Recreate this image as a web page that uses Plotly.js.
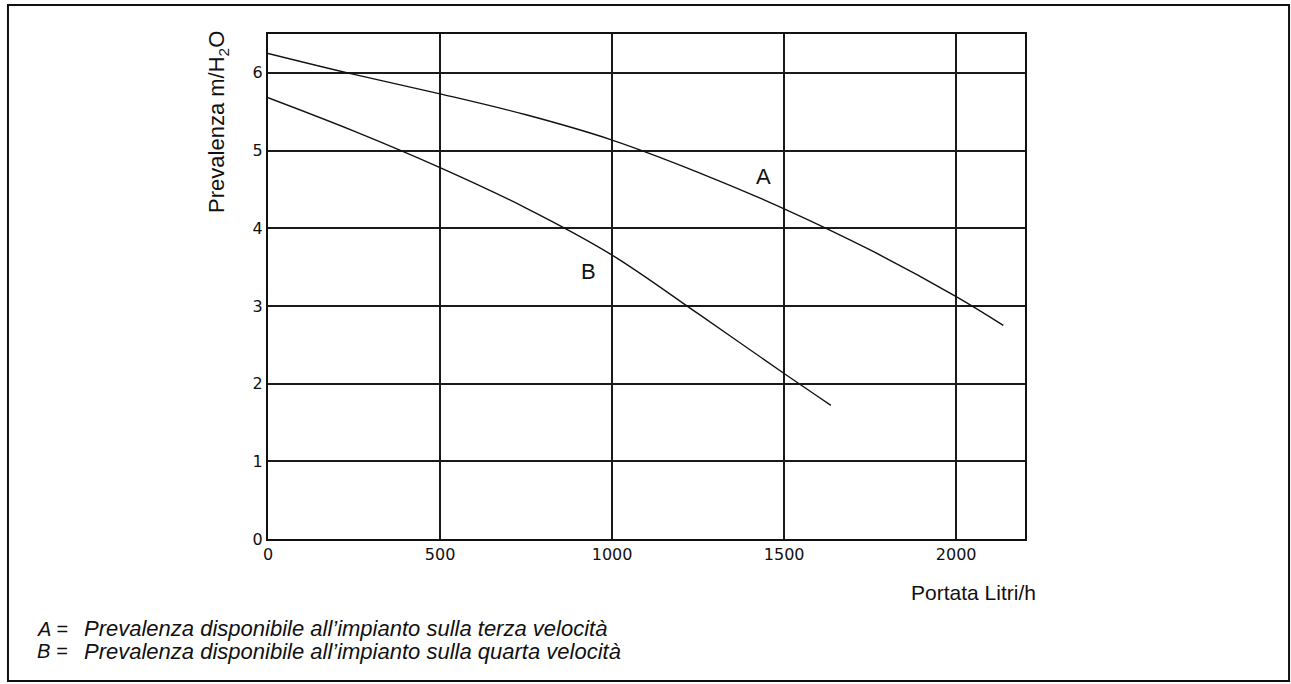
<!DOCTYPE html>
<html>
<head>
<meta charset="utf-8">
<script src="https://cdn.plot.ly/plotly-3.0.1.min.js"></script>
<style>
html,body{margin:0;padding:0;background:#fff;}
#chart{width:1291px;height:684px;}
</style>
</head>
<body>
<div id="chart"></div>
<script>
// Curve A (terza velocità)
const flowA = [0, 250, 500, 750, 1000, 1250, 1500, 1750, 2000, 2137];
const headA = [6.25, 5.98, 5.73, 5.46, 5.135, 4.72, 4.25, 3.72, 3.12, 2.75];
// Curve B (quarta velocità)
const flowB = [0, 250, 500, 750, 1000, 1250, 1500, 1636];
const headB = [5.68, 5.25, 4.78, 4.26, 3.655, 2.90, 2.13, 1.72];

const xTicks = [0, 500, 1000, 1500, 2000];
const yTicks = [0, 1, 2, 3, 4, 5, 6];

const curveLabels = ['A', 'B'];
const labelX = [1439, 930];
const labelY = [4.67, 3.44];

const legendKeys = ['A =', 'B ='];
const legendTexts = [
  'Prevalenza disponibile all’impianto sulla terza velocità',
  'Prevalenza disponibile all’impianto sulla quarta velocità'
];

const xTitle = 'Portata Litri/h';
const yTitle = 'Prevalenza m/H<sub>2</sub>O';

const lineStyle = {color: '#111', width: 1.4, shape: 'spline', smoothing: 1};

const traces = [
  {x: flowA, y: headA, mode: 'lines', line: lineStyle, hoverinfo: 'skip'},
  {x: flowB, y: headB, mode: 'lines', line: lineStyle, hoverinfo: 'skip'}
];

const font = 'Liberation Sans, Arial, sans-serif';
const annotations = [];
curveLabels.forEach((t, i) => annotations.push({
  xref: 'x', yref: 'y', x: labelX[i], y: labelY[i], text: t, showarrow: false,
  font: {family: font, size: 22, color: '#111'}, xanchor: 'center', yanchor: 'middle'
}));
annotations.push({
  xref: 'paper', yref: 'paper', x: -0.066, y: 0.826, text: yTitle, showarrow: false,
  textangle: -90, font: {family: font, size: 22, color: '#111'}, xanchor: 'center', yanchor: 'middle'
});
annotations.push({
  xref: 'paper', yref: 'paper', x: 0.932, y: -0.105, text: xTitle, showarrow: false,
  font: {family: font, size: 21, color: '#111'}, xanchor: 'center', yanchor: 'middle'
});
const legY = [-0.178, -0.222];
legendKeys.forEach((k, i) => {
  annotations.push({
    xref: 'paper', yref: 'paper', x: -0.3078, y: legY[i], text: '<i>' + k + '</i>', showarrow: false,
    font: {family: font, size: 20, color: '#111'}, xanchor: 'left', yanchor: 'middle'
  });
  annotations.push({
    xref: 'paper', yref: 'paper', x: -0.2457, y: legY[i], text: '<i>' + legendTexts[i] + '</i>', showarrow: false,
    font: {family: font, size: 22, color: '#111'}, xanchor: 'left', yanchor: 'middle'
  });
});

const layout = {
  width: 1291, height: 684,
  margin: {l: 268, r: 266, t: 34, b: 145},
  paper_bgcolor: '#fff', plot_bgcolor: '#fff',
  showlegend: false,
  font: {family: 'DejaVu Sans, sans-serif', size: 15, color: '#111'},
  xaxis: {
    range: [0, 2200], tickvals: xTicks, ticktext: xTicks.map(String),
    showgrid: true, gridcolor: '#1a1a1a', gridwidth: 2,
    showline: true, linecolor: '#111', linewidth: 2, mirror: true,
    zeroline: false, ticks: '', fixedrange: true,
    tickfont: {family: 'DejaVu Sans, sans-serif', size: 16, color: '#111'}
  },
  yaxis: {
    range: [0, 6.5], tickvals: yTicks, ticktext: yTicks.map(String),
    showgrid: true, gridcolor: '#1a1a1a', gridwidth: 2,
    showline: true, linecolor: '#111', linewidth: 2, mirror: true,
    zeroline: false, ticks: '', fixedrange: true,
    tickfont: {family: 'DejaVu Sans, sans-serif', size: 16, color: '#111'}
  },
  annotations: annotations,
  shapes: [{
    type: 'rect', xref: 'paper', yref: 'paper',
    x0: -0.3435, x1: 1.3488, y0: -0.2812, y1: 1.0574,
    line: {color: '#111', width: 2}, fillcolor: 'rgba(0,0,0,0)', layer: 'below'
  }]
};

Plotly.newPlot('chart', traces, layout, {staticPlot: true, displayModeBar: false});
</script>
</body>
</html>
